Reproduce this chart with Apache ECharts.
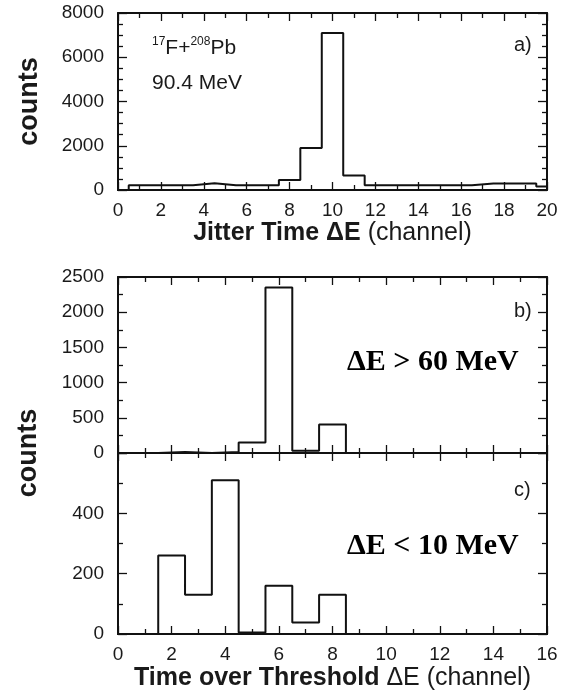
<!DOCTYPE html>
<html>
<head>
<meta charset="utf-8">
<script src="https://cdn.jsdelivr.net/npm/echarts@6/dist/echarts.min.js"></script>
<style>html,body{margin:0;padding:0;background:#fff;}#c{width:566px;height:697px;}</style>
</head>
<body>
<div id="c"></div>
<script>
// Panel a: Jitter time histogram (bin centres, counts)
const binsA = [0,1,2,3,4,5,6,7,8,9,10,11,12,13,14,15,16,17,18,19,20];
const countsA = [0,220,220,220,310,220,220,220,450,1900,7100,650,220,220,220,220,220,295,295,295,160];
// Panels b and c: Time over threshold histograms
const binsBC = [0,1,2,3,4,5,6,7,8,9,10,11,12,13,14,15,16];
const countsB = [0,0,15,0,15,150,2350,33,405,0,0,0,0,0,0,0,0];
const countsC = [0,0,260,130,510,5,160,38,130,0,0,0,0,0,0,0,0];
// Axis ranges / tick steps
const xRangeA = [0, 20], xStepA = 2;
const yRangeA = [0, 8000], yStepA = 2000;
const xRangeBC = [0, 16], xStepBC = 2;
const yRangeB = [0, 2500], yStepB = 500;
const yRangeC = [0, 600], yStepC = 200;

const INK = '#111';
const TXT = '#1a1a1a';
const SANS = '"Liberation Sans", Arial, Helvetica, sans-serif';
const SERIF = '"Liberation Serif", "Times New Roman", serif';

function stepOutline(bins, vals) {
  const pts = [[bins[0] - 0.5, 0]];
  for (let i = 0; i < bins.length; i++) {
    pts.push([bins[i] - 0.5, vals[i]]);
    pts.push([bins[i] + 0.5, vals[i]]);
  }
  pts.push([bins[bins.length - 1] + 0.5, 0]);
  return pts;
}

function xAx(grid, pos, range, step, showLabels, name, nameGap) {
  const ax = {
    type: 'value', gridIndex: grid, position: pos, min: range[0], max: range[1], interval: step,
    axisLine: {show: true, onZero: false, lineStyle: {color: INK, width: 2}},
    axisTick: {show: true, inside: true, length: 8, lineStyle: {color: INK, width: 1.3}},
    minorTick: {show: true, splitNumber: 2, length: 5, lineStyle: {color: INK, width: 1.3}},
    splitLine: {show: false},
    axisLabel: {show: showLabels, margin: 11, fontSize: 19, fontFamily: SANS, color: TXT,
      formatter: function (v) { return String(v); }}
  };
  if (name) {
    ax.name = name; ax.nameLocation = 'middle'; ax.nameGap = nameGap;
    ax.nameTextStyle = {rich: {
      b: {fontSize: 25, fontWeight: 'bold', fontFamily: SANS, color: TXT},
      r: {fontSize: 25, fontWeight: 'normal', fontFamily: SANS, color: TXT}
    }};
  }
  return ax;
}
function yAx(grid, pos, range, step, minorSplit, showLabels, hideMax) {
  return {
    type: 'value', gridIndex: grid, position: pos, min: range[0], max: range[1], interval: step,
    axisLine: {show: true, onZero: false, lineStyle: {color: INK, width: 2}},
    axisTick: {show: true, inside: true, length: 9, lineStyle: {color: INK, width: 1.3}},
    minorTick: {show: true, splitNumber: minorSplit, length: 5, lineStyle: {color: INK, width: 1.3}},
    splitLine: {show: false},
    axisLabel: {show: showLabels, margin: 14, fontSize: 19, fontFamily: SANS, color: TXT, showMaxLabel: !hideMax,
      formatter: function (v) { return String(v); }}
  };
}

const yA = yAx(0, 'left', yRangeA, yStepA, 4, true, false);
yA.name = 'counts'; yA.nameLocation = 'middle'; yA.nameRotate = 90; yA.nameGap = 75;
yA.nameTextStyle = {fontSize: 27, fontWeight: 'bold', fontFamily: SANS, color: TXT};

const option = {
  animation: false,
  backgroundColor: '#fff',
  grid: [
    {left: 118, top: 13, width: 429, height: 177},
    {left: 118, top: 277, width: 429, height: 176},
    {left: 118, top: 453, width: 429, height: 181}
  ],
  xAxis: [
    xAx(0, 'bottom', xRangeA, xStepA, true, '{b|Jitter Time ΔE }{r|(channel)}', 26),
    xAx(0, 'top', xRangeA, xStepA, false),
    xAx(1, 'bottom', xRangeBC, xStepBC, false),
    xAx(1, 'top', xRangeBC, xStepBC, false),
    xAx(2, 'bottom', xRangeBC, xStepBC, true, '{b|Time over Threshold }{r|ΔE (channel)}', 32),
    xAx(2, 'top', xRangeBC, xStepBC, false)
  ],
  yAxis: [
    yA,
    yAx(0, 'right', yRangeA, yStepA, 4, false),
    yAx(1, 'left', yRangeB, yStepB, 2, true),
    yAx(1, 'right', yRangeB, yStepB, 2, false),
    yAx(2, 'left', yRangeC, yStepC, 2, true, true),
    yAx(2, 'right', yRangeC, yStepC, 2, false)
  ],
  series: [
    {type: 'line', xAxisIndex: 0, yAxisIndex: 0, data: stepOutline(binsA, countsA), showSymbol: false, symbol: 'none', clip: true, lineStyle: {color: INK, width: 2}},
    {type: 'line', xAxisIndex: 2, yAxisIndex: 2, data: stepOutline(binsBC, countsB), showSymbol: false, symbol: 'none', clip: true, lineStyle: {color: INK, width: 2}},
    {type: 'line', xAxisIndex: 4, yAxisIndex: 4, data: stepOutline(binsBC, countsC), showSymbol: false, symbol: 'none', clip: true, lineStyle: {color: INK, width: 2}}
  ],
  graphic: [
    {type: 'text', x: 152, y: 36, style: {
      text: '{s|17}{n|F+}{s|208}{n|Pb}', fill: TXT,
      rich: {
        s: {fontSize: 12, fontFamily: SANS, fill: TXT, verticalAlign: 'top', lineHeight: 24},
        n: {fontSize: 21, fontFamily: SANS, fill: TXT, lineHeight: 24}
      }}},
    {type: 'text', x: 152, y: 83, style: {text: '90.4 MeV', fontSize: 21, fontFamily: SANS, fill: TXT, textAlign: 'left', textVerticalAlign: 'middle', align: 'left', verticalAlign: 'middle'}},
    {type: 'text', x: 514, y: 45, style: {text: 'a)', fontSize: 20, fontFamily: SANS, fill: TXT, textAlign: 'left', textVerticalAlign: 'middle', align: 'left', verticalAlign: 'middle'}},
    {type: 'text', x: 514, y: 311, style: {text: 'b)', fontSize: 20, fontFamily: SANS, fill: TXT, textAlign: 'left', textVerticalAlign: 'middle', align: 'left', verticalAlign: 'middle'}},
    {type: 'text', x: 514, y: 490, style: {text: 'c)', fontSize: 20, fontFamily: SANS, fill: TXT, textAlign: 'left', textVerticalAlign: 'middle', align: 'left', verticalAlign: 'middle'}},
    {type: 'text', x: 347, y: 362, style: {text: 'ΔE > 60 MeV', fontSize: 30, fontWeight: 'bold', fontFamily: SERIF, fill: '#000', textAlign: 'left', textVerticalAlign: 'middle', align: 'left', verticalAlign: 'middle'}},
    {type: 'text', x: 347, y: 546, style: {text: 'ΔE < 10 MeV', fontSize: 30, fontWeight: 'bold', fontFamily: SERIF, fill: '#000', textAlign: 'left', textVerticalAlign: 'middle', align: 'left', verticalAlign: 'middle'}},
    {type: 'text', x: 29, y: 453, rotation: Math.PI / 2, style: {text: 'counts', fontSize: 27, fontWeight: 'bold', fontFamily: SANS, fill: TXT, textAlign: 'center', textVerticalAlign: 'middle', align: 'center', verticalAlign: 'middle'}}
  ]
};

const chart = echarts.init(document.getElementById('c'), null, {renderer: 'canvas'});
chart.setOption(option);
</script>
</body>
</html>
